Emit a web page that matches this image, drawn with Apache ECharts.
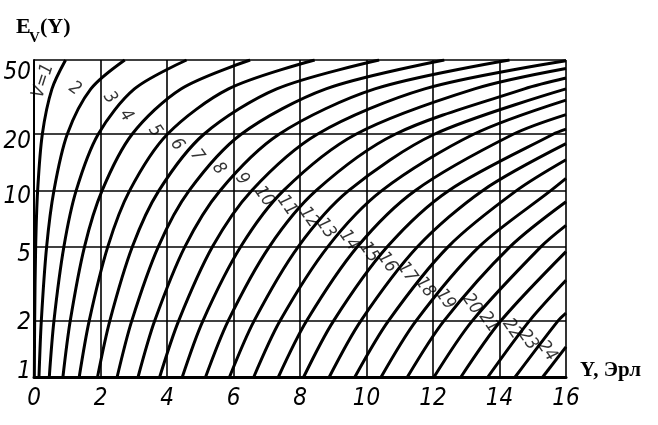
<!DOCTYPE html>
<html>
<head>
<meta charset="utf-8">
<script src="https://cdn.jsdelivr.net/npm/echarts@6/dist/echarts.min.js"></script>
<style>
  html, body { margin: 0; padding: 0; background: #fff; }
  #chart { width: 658px; height: 425px; }
</style>
</head>
<body>
<div id="chart"></div>
<script>
// ---- data ----
// tick labels
const xTicks = [0, 2, 4, 6, 8, 10, 12, 14, 16];
const yTicks = [1, 2, 5, 10, 20, 50];
// number of lines v for each curve
const lineCounts = [1, 2, 3, 4, 5, 6, 7, 8, 9, 10, 11, 12, 13, 14, 15, 16, 17, 18, 19, 20, 21, 22, 23, 24];
// loss levels E (%) at which the load Y was read
const lossLevels = [1, 2, 5, 10, 20, 35, 50];
// load Y (Erl) where each curve crosses those loss levels (null = outside the chart)
const crossLoad = [
  [0.01, 0.02, 0.05, 0.11, 0.25, 0.54, 0.95],
  [0.15, 0.22, 0.38, 0.60, 1.00, 1.71, 2.73],
  [0.46, 0.60, 0.90, 1.27, 1.93, 3.02, 4.59],
  [0.87, 1.09, 1.52, 2.05, 2.95, 4.42, 6.50],
  [1.36, 1.66, 2.22, 2.88, 4.01, 5.85, 8.44],
  [1.91, 2.28, 2.96, 3.76, 5.11, 7.30, 10.38],
  [2.50, 2.94, 3.74, 4.67, 6.23, 8.78, 12.34],
  [3.13, 3.63, 4.54, 5.60, 7.37, 10.25, 14.30],
  [3.78, 4.35, 5.37, 6.55, 8.52, 11.75, null],
  [4.46, 5.08, 6.22, 7.51, 9.68, 13.25, null],
  [5.16, 5.84, 7.08, 8.49, 10.86, 14.75, null],
  [5.88, 6.62, 7.95, 9.47, 12.04, null, null],
  [6.61, 7.40, 8.84, 10.47, 13.22, null, null],
  [7.35, 8.20, 9.73, 11.47, 14.41, null, null],
  [8.11, 9.01, 10.63, 12.48, 15.61, null, null],
  [8.88, 9.83, 11.54, 13.50, null, null, null],
  [9.65, 10.66, 12.46, 14.52, null, null, null],
  [10.44, 11.49, 13.39, 15.55, null, null, null],
  [11.23, 12.33, 14.32, null, null, null, null],
  [12.03, 13.18, 15.25, null, null, null, null],
  [12.84, 14.04, null, null, null, null, null],
  [13.65, 14.90, null, null, null, null, null],
  [14.47, 15.76, null, null, null, null, null],
  [15.30, null, null, null, null, null, null]
];
// loss E (%) where each curve meets the right edge Y = 16 (null = leaves through the top)
const edgeLoss = [null, null, null, null, null, null, null, null,
  49.5, 45, 40, 35, 30.5, 25.5, 21.3, 17.8, 14.6, 11.6, 8.7, 6.5, 4.7, 3.3, 2.2, 1.45];
// curve label texts
const curveLabels = ['V=1', '2', '3', '4', '5', '6', '7', '8', '9', '10', '11', '12', '13', '14', '15', '16', '17', '18', '19', '20', '21', '22', '23', '24'];

// ---- layout: where each curve label sits, in chart coordinates [Y, E] ----
const labelAt = [
  [0.27, 38.7], [1.23, 35.1], [2.29, 31.4], [2.77, 25.2], [3.64, 20.9], [4.30, 17.6],
  [4.90, 15.4], [5.56, 13.1], [6.26, 11.5], [6.92, 9.29], [7.61, 8.32], [8.27, 7.17],
  [8.78, 6.26], [9.47, 5.40], [10.08, 4.66], [10.62, 4.12], [11.22, 3.64], [11.76, 3.03],
  [12.37, 2.61], [13.17, 2.46], [13.68, 1.97], [14.38, 1.81], [14.86, 1.58], [15.43, 1.38]
];

const numFont = "'DejaVu Sans Condensed', 'Liberation Sans Narrow', 'DejaVu Sans', sans-serif";
const serifFont = "'Liberation Serif', 'DejaVu Serif', serif";

const series = lineCounts.map(function (v, i) {
  const pts = [];
  lossLevels.forEach(function (E, k) {
    const y = crossLoad[i][k];
    if (y !== null && y !== undefined) pts.push([y, E]);
  });
  if (edgeLoss[i] !== null) pts.push([16, edgeLoss[i]]);
  return {
    type: 'line',
    name: 'v' + v,
    data: pts,
    showSymbol: false,
    symbol: 'none',
    smooth: 0.3,
    clip: true,
    silent: true,
    lineStyle: { color: '#000', width: 3 },
    z: 3
  };
});

series.push({
  type: 'scatter',
  name: 'labels',
  symbolSize: 0,
  silent: true,
  z: 5,
  data: curveLabels.map(function (t, i) {
    let rot = -55;
    if (i === 0) rot = 72;
    if (i === 1) rot = -35;
    return {
      value: labelAt[i],
      name: t,
      label: { rotate: rot }
    };
  }),
  label: {
    show: true,
    position: 'inside',
    formatter: '{b}',
    color: '#000',
    fontFamily: numFont,
    fontStyle: 'italic',
    fontSize: 18
  }
});

const yLabelShift = { 1: -10, 2: 4, 5: 16, 10: 12, 20: 16, 50: 26 };
const yRich = {};
yTicks.forEach(function (t) {
  const s = yLabelShift[t];
  yRich['t' + t] = {
    fontFamily: numFont, fontStyle: 'italic', fontSize: 24, color: '#000',
    padding: s >= 0 ? [s, 0, 0, 0] : [0, 0, -s, 0]
  };
});

const chart = echarts.init(document.getElementById('chart'), null, { renderer: 'canvas' });
chart.setOption({
  backgroundColor: '#fff',
  animation: false,
  grid: { left: 34, right: 92, top: 60, bottom: 48, containLabel: false },
  xAxis: {
    type: 'value',
    min: 0,
    max: 16,
    interval: 2,
    axisLine: { show: true, onZero: false, lineStyle: { color: '#000', width: 3 } },
    axisTick: { show: false },
    splitLine: { show: true, lineStyle: { color: '#000', width: 1.6 } },
    axisLabel: {
      margin: 10,
      color: '#000',
      fontFamily: numFont,
      fontStyle: 'italic',
      fontSize: 24,
      formatter: function (v) { return xTicks.indexOf(v) >= 0 ? String(v) : ''; }
    }
  },
  yAxis: {
    type: 'log',
    logBase: 10,
    min: 1,
    max: 50,
    axisLine: { show: true, lineStyle: { color: '#000', width: 2 } },
    axisTick: { show: false, customValues: yTicks },
    splitLine: { show: true, lineStyle: { color: '#000', width: 1.6 } },
    axisLabel: {
      margin: 3,
      customValues: yTicks,
      formatter: function (v) { return '{t' + v + '|' + v + '}'; },
      rich: yRich
    }
  },
  graphic: [
    { type: 'text', left: 16, top: 16, style: { text: 'E', font: 'bold 22px ' + serifFont, fill: '#000' } },
    { type: 'text', left: 29, top: 31, style: { text: 'V', font: 'bold 15px ' + serifFont, fill: '#000' } },
    { type: 'text', left: 40, top: 16, style: { text: '(Y)', font: 'bold 22px ' + serifFont, fill: '#000' } },
    { type: 'text', left: 580, top: 360, style: { text: 'Y, Эрл', font: 'bold 21px ' + serifFont, fill: '#000' } }
  ],
  series: series
});
</script>
</body>
</html>
